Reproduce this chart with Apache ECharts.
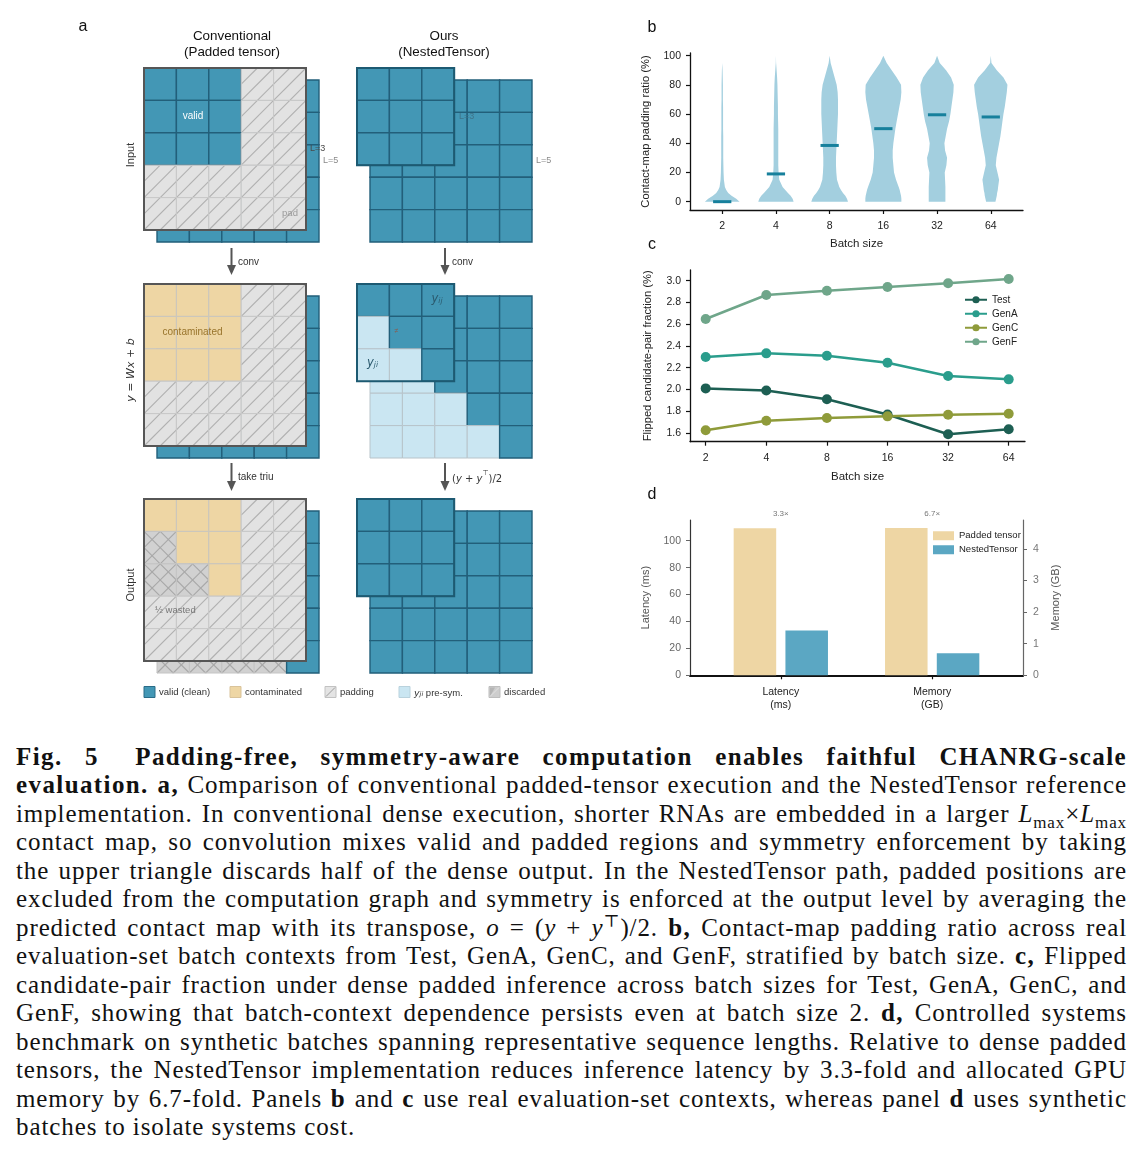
<!DOCTYPE html>
<html><head><meta charset="utf-8">
<script src="https://cdn.jsdelivr.net/npm/echarts@6/dist/echarts.min.js"></script>
<style>
html,body{margin:0;padding:0;background:#fff;}
#chart{position:absolute;left:0;top:0;width:1143px;height:725px;}
.cap{position:absolute;left:16px;width:1111px;font-family:'Liberation Serif','DejaVu Serif',serif;font-size:25px;line-height:28px;height:28px;color:#111;text-align:justify;text-align-last:justify;white-space:nowrap;letter-spacing:0.9px;}
.cap b{letter-spacing:1.4px;}
.cap.last{text-align-last:left;}
.cap sub,.cap sup{font-size:68%;line-height:0;}
</style></head><body>
<div id="chart"></div>
<div id="caption"></div>
<script>
// ================= DATA =================
// panel a: cell kinds  V valid, C contaminated, P padding, L y_ji pre-sym, D discarded
const cellKinds = ['V','C','P','L','D'];
const convFront = [
  ['VVVPP','VVVPP','VVVPP','PPPPP','PPPPP'],
  ['CCCPP','CCCPP','CCCPP','PPPPP','PPPPP'],
  ['CCCPP','DCCPP','DDCPP','PPPPP','PPPPP']
];
const convBack = [
  ['VVVVV','VVVVV','VVVVV','VVVVV','VVVVV'],
  ['VVVVV','VVVVV','VVVVV','VVVVV','VVVVV'],
  ['VVVVV','DVVVV','DDVVV','DDDVV','DDDDV']
];
const oursFront = [
  ['VVV','VVV','VVV'],
  ['VVV','LVV','LLV'],
  ['VVV','VVV','VVV']
];
const oursBack = [
  ['VVVVV','VVVVV','VVVVV','VVVVV','VVVVV'],
  ['VVVVV','LVVVV','LLVVV','LLLVV','LLLLV'],
  ['VVVVV','VVVVV','VVVVV','VVVVV','VVVVV']
];
const rowLabels = ['Input', 'y = Wx + b', 'Output'];
const stepLabelsConv = ['conv', 'take triu'];
const legendA = ['valid (clean)', 'contaminated', 'padding', 'y_ji pre-sym.', 'discarded'];

// panel b: violin profiles (relative half-width at each padding-ratio level)
const batchSizes = ['2','4','8','16','32','64'];
const violinLevels = [0,2,4,6,8,10,15,20,25,30,35,40,45,50,55,60,65,70,75,80,85,90,95,100];
const violin2  = [52,42,28,18,12,8,5,4,3.5,3,3,3,3,2.5,2.5,2.5,2.5,2,2,2,1.5,1,0,0];
const violin4  = [53,50,44,36,28,20,10,8,7,7,7,7,7,7,6.5,6,6,5.5,5,4.5,3.5,2,0.5,0];
const violin8  = [55,52,47,40,34,29,22,20,19,19,20,21,22,23,24,25,25,25,24,21,15,9,3,0];
const violin16 = [54,54,53,51,49,46,38,32,30,28,28,30,33,36,40,44,48,52,54,53,40,25,10,0];
const violin32 = [25,25,25,25,25,25,24,23,28,30,24,22,26,30,36,40,43,46,49,50,42,27,8,0];
const violin64 = [14,16,18,19,21,22,25,20,15,17,21,25,29,32,35,38,42,45,48,50,38,18,2,0];
const paddingMedian = [0, 19, 38.5, 50, 59.5, 58];
const yTicksB = [0,20,40,60,80,100];

// panel c
const flipTest = [2.01, 1.99, 1.91, 1.77, 1.588, 1.634];
const flipGenA = [2.298, 2.332, 2.31, 2.246, 2.124, 2.093];
const flipGenC = [1.625, 1.713, 1.738, 1.753, 1.768, 1.777];
const flipGenF = [2.648, 2.868, 2.908, 2.942, 2.976, 3.015];
const yTicksC = [1.6,1.8,2.0,2.2,2.4,2.6,2.8,3.0];

// panel d
const dMetrics = ['Latency\n(ms)', 'Memory\n(GB)'];
const dPadded = [109.2, 4.66];
const dNested = [33.2, 0.70];
const dFold = ['3.3×', '6.7×'];
const yTicksDL = [0,20,40,60,80,100];
const yTicksDR = [0,1,2,3,4];

// ================= STYLE / LAYOUT =================
const FONT = "'Liberation Sans', Arial, sans-serif";
const TICK_FS = 10.5;
const A_CELL = 32.4, A_DX = 13, A_DY = 12;
const A_ROW_TOP = [68, 284, 499];
const A_CONV_LEFT = 144, A_OURS_LEFT = 357;
const CELL_STYLE = {
  V:{fill:'#4397b5', stroke:'#225f7a', lw:1.4},
  C:{fill:'#eed6a4', stroke:'#cac6be', lw:1},
  P:{fill:'#e2e2e2', stroke:'#c8c8c8', lw:1, hatch:1, hc:'#b0b0b0'},
  L:{fill:'#cae6f2', stroke:'#b8c4ca', lw:1},
  D:{fill:'#d1d1d1', stroke:'#c4c4c4', lw:1, hatch:2, hc:'#a8a8a8'}
};
const COL = {test:'#1d5f53', genA:'#2a9d8c', genC:'#8f9b3a', genF:'#6fa68a',
  violin:'#a3cfdf', median:'#17809c', padded:'#eed6a4', nested:'#5ba7c3'};

function seg(x1,y1,x2,y2,style){return {type:'line',shape:{x1,y1,x2,y2},style};}

function cellRender(params, api){
  const c = api.value(0), r = api.value(1), k = cellKinds[api.value(2)];
  const p0 = api.coord([c, r]), p1 = api.coord([c+1, r+1]);
  const x0 = Math.min(p0[0],p1[0]), x1 = Math.max(p0[0],p1[0]);
  const y0 = Math.min(p0[1],p1[1]), y1 = Math.max(p0[1],p1[1]);
  const st = CELL_STYLE[k];
  const xm = (x0+x1)/2, ym = (y0+y1)/2;
  const ch = [{type:'rect', shape:{x:x0,y:y0,width:x1-x0,height:y1-y0}, style:{fill:st.fill}}];
  if (st.hatch){
    const hs = {stroke:st.hc, lineWidth:1.1};
    ch.push(seg(x0,y1,x1,y0,hs), seg(x0,ym,xm,y0,hs), seg(xm,y1,x1,ym,hs));
    if (st.hatch === 2){
      ch.push(seg(x0,y0,x1,y1,hs), seg(xm,y0,x1,ym,hs), seg(x0,ym,xm,y1,hs));
    }
  }
  ch.push({type:'rect', shape:{x:x0,y:y0,width:x1-x0,height:y1-y0}, style:{fill:null, stroke:st.stroke, lineWidth:st.lw}});
  return {type:'group', children:ch};
}

const grid = [], xAxis = [], yAxis = [], series = [], graphic = [];

function addMatrix(left, top, rows, z){
  const n = rows.length, gi = grid.length;
  grid.push({left, top, width:n*A_CELL, height:n*A_CELL, show:false, containLabel:false, outerBoundsMode:'none'});
  xAxis.push({gridIndex:gi, type:'value', min:0, max:n, show:false});
  yAxis.push({gridIndex:gi, type:'value', min:0, max:n, inverse:true, show:false});
  const data = [];
  rows.forEach((row, r) => row.split('').forEach((t, c) => data.push([c, r, cellKinds.indexOf(t)])));
  series.push({type:'custom', xAxisIndex:gi, yAxisIndex:gi, z, silent:true, renderItem:cellRender, data});
  return {left, top, size:n*A_CELL};
}

function txt(x, y, text, o){
  o = o || {};
  return {type:'text', x, y, rotation:o.rot||0, z:o.z||50, silent:true,
    style:{text, fontSize:o.size||10, fontFamily:o.family||FONT, fontStyle:o.style||'normal', fontWeight:o.weight||'normal',
      fill:o.color||'#222', align:o.align||'center', verticalAlign:'middle', textAlign:o.align||'center', textVerticalAlign:'middle',
      rich:o.rich}};
}

for (let s = 0; s < 3; s++){
  const top = A_ROW_TOP[s];
  addMatrix(A_CONV_LEFT + A_DX, top + A_DY, convBack[s], 2);
  const cf = addMatrix(A_CONV_LEFT, top, convFront[s], 4);
  addMatrix(A_OURS_LEFT + A_DX, top + A_DY, oursBack[s], 2);
  const of = addMatrix(A_OURS_LEFT, top, oursFront[s], 4);
  graphic.push({type:'rect', z:30, silent:true, shape:{x:cf.left, y:cf.top, width:cf.size, height:cf.size}, style:{fill:null, stroke:'#565656', lineWidth:2}});
  graphic.push({type:'rect', z:30, silent:true, shape:{x:of.left, y:of.top, width:of.size, height:of.size}, style:{fill:null, stroke:'#1d5a72', lineWidth:2}});
}

// ---------- panel a texts ----------
const MATH = "'DejaVu Sans', sans-serif";
const subRich = (col, big, small) => ({
  i:{fontFamily:MATH, fontStyle:'italic', fontSize:big, fill:col, verticalAlign:'bottom', lineHeight:big+3},
  s:{fontFamily:MATH, fontStyle:'italic', fontSize:small, fill:col, verticalAlign:'bottom', lineHeight:small+2},
  n:{fontFamily:FONT, fontSize:big, fill:col, verticalAlign:'bottom', lineHeight:big+3}});
graphic.push(
  txt(83, 27, 'a', {size:16, color:'#111'}),
  txt(652, 28, 'b', {size:16, color:'#111'}),
  txt(652, 245, 'c', {size:16, color:'#111'}),
  txt(652, 495, 'd', {size:16, color:'#111'}),
  txt(232, 36, 'Conventional', {size:13.4, color:'#111'}),
  txt(232, 52.5, '(Padded tensor)', {size:13.4, color:'#111'}),
  txt(444, 36, 'Ours', {size:13.4, color:'#111'}),
  txt(444, 52.5, '(NestedTensor)', {size:13.4, color:'#111'}),
  txt(131, 155, rowLabels[0], {size:11, rot:Math.PI/2, color:'#333'}),
  txt(131, 370, '{i|y}{n| = }{i|Wx}{n| + }{i|b}', {size:11, rot:Math.PI/2, color:'#333',
     rich:{i:{fontFamily:MATH, fontStyle:'italic', fontSize:11, fill:'#333'}, n:{fontFamily:MATH, fontSize:11, fill:'#333'}}}),
  txt(131, 585, rowLabels[2], {size:11, rot:Math.PI/2, color:'#333'}),
  txt(193, 116.5, 'valid', {size:10, color:'#ffffff'}),
  txt(310, 148.5, 'L=3', {size:9, color:'#4a4a4a', align:'left'}),
  txt(323, 160.5, 'L=5', {size:9, color:'#8a8a8a', align:'left'}),
  txt(290, 213, 'pad', {size:9.5, color:'#9a9a9a'}),
  txt(459, 116.5, 'L=3', {size:9, color:'#3f7389', align:'left'}),
  txt(536, 160.5, 'L=5', {size:9, color:'#8a8a8a', align:'left'}),
  txt(192.5, 332, 'contaminated', {size:10, color:'#98742c'}),
  txt(437, 298, '{i|y}{s|ij}', {rich:subRich('#2b5a6e', 11.5, 7.5)}),
  txt(396.5, 331, '≠', {size:7, color:'#8e5a4a'}),
  txt(372.5, 362, '{i|y}{s|ji}', {rich:subRich('#2b5a6e', 11.5, 7.5)}),
  txt(155, 610.5, '½ wasted', {size:9.5, color:'#777', align:'left'}),
  txt(238, 262, stepLabelsConv[0], {size:10, color:'#333', align:'left'}),
  txt(238, 477, stepLabelsConv[1], {size:10, color:'#333', align:'left'}),
  txt(452, 262, 'conv', {size:10, color:'#333', align:'left'}),
  txt(452, 477, '{n|(}{i|y}{n| + }{i|y}{s|⊤}{n|)/2}', {align:'left', rich:{
     n:{fontFamily:MATH, fontSize:10, fill:'#333', verticalAlign:'bottom', lineHeight:14},
     i:{fontFamily:MATH, fontStyle:'italic', fontSize:10, fill:'#333', verticalAlign:'bottom', lineHeight:14},
     s:{fontFamily:MATH, fontSize:7, fill:'#333', verticalAlign:'top', lineHeight:14}}})
);
function arrow(x, y0, y1){
  return {type:'group', silent:true, z:30, children:[
    {type:'line', shape:{x1:x, y1:y0, x2:x, y2:y1-9}, style:{stroke:'#555', lineWidth:2}},
    {type:'polygon', shape:{points:[[x-4.5,y1-10],[x+4.5,y1-10],[x,y1]]}, style:{fill:'#555'}}
  ]};
}
graphic.push(arrow(231.5, 248, 275), arrow(231.5, 463, 491), arrow(445, 248, 275), arrow(445, 463, 491));

// legend of panel a
const LGY = 686.5, LGS = 11;
const legX = [144, 230, 325, 399, 489];
const legFill = ['#4397b5', '#eed6a4', '#e4e4e4', '#cae6f2', '#cdcdcd'];
const legStroke = ['#2a6c88', '#d9c39a', '#c2c2c2', '#b9d2dd', '#bdbdbd'];
legX.forEach((x, i) => {
  graphic.push({type:'rect', z:30, silent:true, shape:{x, y:LGY, width:LGS, height:LGS}, style:{fill:legFill[i], stroke:legStroke[i], lineWidth:1}});
  if (i === 2) graphic.push({type:'line', z:31, silent:true, shape:{x1:x+1, y1:LGY+LGS-1, x2:x+LGS-1, y2:LGY+1}, style:{stroke:'#9c9c9c', lineWidth:1}});
  if (i === 4) graphic.push({type:'polygon', z:31, silent:true, shape:{points:[[x+1,LGY+1],[x+6,LGY+1],[x+1,LGY+LGS-1]]}, style:{fill:'#b5b5b5'}},
                           {type:'line', z:31, silent:true, shape:{x1:x+1, y1:LGY+LGS-1, x2:x+LGS-1, y2:LGY+1}, style:{stroke:'#e2e2e2', lineWidth:1}});
  if (i === 3) {
    graphic.push(txt(x+15, LGY+5.5, '{i|y}{s|ji}{n| pre-sym.}', {align:'left', rich:subRich('#333', 9.5, 6.5)}));
  } else {
    graphic.push(txt(x+15, LGY+5.5, legendA[i], {size:9.5, color:'#333', align:'left'}));
  }
});

// ---------- panel b ----------
const violinProfiles = [violin2, violin4, violin8, violin16, violin32, violin64];
const VIOLIN_SCALE = 1/161, MED_HALF = 0.17;
const axisBlack = {show:true, onZero:false, lineStyle:{color:'#111', width:1.3}};
const tickBlack = {show:true, length:4, lineStyle:{color:'#111', width:1.2}};
const gb = grid.length;
grid.push({left:690, top:53, width:333, height:157, outerBoundsMode:'none', containLabel:false});
xAxis.push({gridIndex:gb, type:'value', min:-0.6, max:5.6, axisLine:axisBlack,
  axisTick:Object.assign({customValues:[0,1,2,3,4,5]}, tickBlack),
  axisLabel:{customValues:[0,1,2,3,4,5], formatter:v => batchSizes[Math.round(v)], fontSize:TICK_FS, color:'#222', margin:11, fontFamily:FONT},
  splitLine:{show:false}, name:'Batch size', nameLocation:'middle', nameGap:28,
  nameTextStyle:{fontSize:11.5, color:'#222', fontFamily:FONT}});
yAxis.push({gridIndex:gb, type:'value', min:-5.7, max:101.8, axisLine:axisBlack,
  axisTick:Object.assign({customValues:yTicksB}, tickBlack),
  axisLabel:{customValues:yTicksB, fontSize:TICK_FS, color:'#222', margin:9, fontFamily:FONT},
  splitLine:{show:false}, name:'Contact-map padding ratio (%)', nameLocation:'middle', nameGap:39,
  nameTextStyle:{fontSize:11.2, color:'#222', fontFamily:FONT}});
series.push({type:'custom', xAxisIndex:gb, yAxisIndex:gb, silent:true, z:5,
  data: batchSizes.map((b, i) => [i, paddingMedian[i]]),
  renderItem(params, api){
    const i = api.value(0), med = api.value(1);
    const prof = violinProfiles[params.dataIndex];
    const L = [], R = [];
    violinLevels.forEach((lv, k) => {
      const w = prof[k] * VIOLIN_SCALE;
      R.push(api.coord([i + w, lv]));
      L.push(api.coord([i - w, lv]));
    });
    const pts = R.concat(L.reverse());
    const m0 = api.coord([i - MED_HALF, med]), m1 = api.coord([i + MED_HALF, med]);
    return {type:'group', children:[
      {type:'polygon', shape:{points:pts}, style:{fill:COL.violin}},
      {type:'line', shape:{x1:m0[0], y1:m0[1], x2:m1[0], y2:m1[1]}, style:{stroke:COL.median, lineWidth:3}}
    ]};
  }});

// ---------- panel c ----------
const gc = grid.length;
grid.push({left:690, top:270, width:335, height:171.7, outerBoundsMode:'none', containLabel:false});
xAxis.push({gridIndex:gc, type:'value', min:-0.259, max:5.269, axisLine:axisBlack,
  axisTick:Object.assign({customValues:[0,1,2,3,4,5]}, tickBlack),
  axisLabel:{customValues:[0,1,2,3,4,5], formatter:v => batchSizes[Math.round(v)], fontSize:TICK_FS, color:'#222', margin:11, fontFamily:FONT},
  splitLine:{show:false}, name:'Batch size', nameLocation:'middle', nameGap:29,
  nameTextStyle:{fontSize:11.5, color:'#222', fontFamily:FONT}});
yAxis.push({gridIndex:gc, type:'value', min:1.52, max:3.098, axisLine:axisBlack,
  axisTick:Object.assign({customValues:yTicksC}, tickBlack),
  axisLabel:{customValues:yTicksC, formatter:v => v.toFixed(1), fontSize:TICK_FS, color:'#222', margin:9, fontFamily:FONT},
  splitLine:{show:false}, name:'Flipped candidate-pair fraction (%)', nameLocation:'middle', nameGap:37,
  nameTextStyle:{fontSize:11.2, color:'#222', fontFamily:FONT}});
[['Test', flipTest, COL.test], ['GenA', flipGenA, COL.genA], ['GenC', flipGenC, COL.genC], ['GenF', flipGenF, COL.genF]].forEach(([name, vals, color]) => {
  series.push({type:'line', name, xAxisIndex:gc, yAxisIndex:gc, z:5,
    data: vals.map((v, i) => [i, v]), symbol:'circle', symbolSize:10, showSymbol:true,
    lineStyle:{color, width:2.5}, itemStyle:{color, borderWidth:0}, emphasis:{disabled:true}});
});

// ---------- panel d ----------
const gd = grid.length;
grid.push({left:690, top:520, width:333, height:155.3, outerBoundsMode:'none', containLabel:false});
xAxis.push({gridIndex:gd, type:'value', min:-0.6, max:1.6,
  axisLine:{show:true, onZero:false, lineStyle:{color:'#111', width:2}},
  axisTick:Object.assign({customValues:[0,1]}, tickBlack),
  axisLabel:{customValues:[0,1], formatter:v => dMetrics[Math.round(v)], fontSize:TICK_FS, color:'#222', margin:11, lineHeight:12.5, fontFamily:FONT},
  splitLine:{show:false}});
const ydl = yAxis.length;
yAxis.push({gridIndex:gd, type:'value', min:0, max:115.4, position:'left',
  axisLine:{show:true, onZero:false, lineStyle:{color:'#333', width:1.2}},
  axisTick:{show:true, customValues:yTicksDL, length:4, lineStyle:{color:'#666'}},
  axisLabel:{customValues:yTicksDL, fontSize:TICK_FS, color:'#666', margin:9, fontFamily:FONT},
  splitLine:{show:false}, name:'Latency (ms)', nameLocation:'middle', nameGap:39,
  nameTextStyle:{fontSize:11, color:'#555', fontFamily:FONT}});
const ydr = yAxis.length;
yAxis.push({gridIndex:gd, type:'value', min:0, max:4.915, position:'right',
  axisLine:{show:true, onZero:false, lineStyle:{color:'#666', width:1.2}},
  axisTick:{show:true, customValues:yTicksDR, length:4, lineStyle:{color:'#666'}},
  axisLabel:{customValues:yTicksDR, fontSize:TICK_FS, color:'#777', margin:10, fontFamily:FONT},
  splitLine:{show:false}, name:'Memory (GB)', nameLocation:'middle', nameGap:27,
  nameTextStyle:{fontSize:11, color:'#555', fontFamily:FONT}});
const BAR_W = 0.281, BAR_OFF = 0.171;
function barRender(off){
  return function(params, api){
    const x = api.value(0), v = api.value(1);
    const p0 = api.coord([x + off - BAR_W/2, v]), p1 = api.coord([x + off + BAR_W/2, 0]);
    return {type:'rect', shape:{x:p0[0], y:p0[1], width:p1[0]-p0[0], height:p1[1]-p0[1]}, style:{fill:api.visual('color')}};
  };
}
[[dPadded, 'Padded tensor', COL.padded, -BAR_OFF], [dNested, 'NestedTensor', COL.nested, BAR_OFF]].forEach(([vals, name, color, off]) => {
  vals.forEach((v, i) => {
    series.push({type:'custom', name, xAxisIndex:gd, yAxisIndex: i === 0 ? ydl : ydr, z:4, silent:true,
      itemStyle:{color}, data:[[i, v]], renderItem:barRender(off)});
  });
});
series.push({type:'custom', xAxisIndex:gd, yAxisIndex:ydl, z:6, silent:true,
  data: dFold.map((f, i) => [i, 115.4]),
  renderItem(params, api){
    const p = api.coord([api.value(0), api.value(1)]);
    return {type:'text', x:p[0], y:p[1]-6, style:{text:dFold[params.dataIndex], fontSize:8, fontFamily:FONT, fill:'#777', align:'center', verticalAlign:'middle'}};
  }});

const option = {
  animation:false,
  textStyle:{fontFamily:FONT},
  grid, xAxis, yAxis, series, graphic,
  legend:[
    {data:['Test','GenA','GenC','GenF'], left:959, top:289, orient:'vertical', itemWidth:22, itemHeight:9, itemGap:2.5,
     textStyle:{fontSize:10, color:'#222', fontFamily:FONT, lineHeight:11.5}, selectedMode:false},
    {data:['Padded tensor','NestedTensor'], left:928, top:525, orient:'vertical', itemWidth:21, itemHeight:9, itemGap:2.5, icon:'rect',
     textStyle:{fontSize:9.5, color:'#222', fontFamily:FONT, lineHeight:11.5}, selectedMode:false}
  ]
};
const chart = echarts.init(document.getElementById('chart'), null, {renderer:'canvas'});
chart.setOption(option);

// ================= CAPTION =================
const captionLines = [
  '<b>Fig. 5&ensp; Padding-free, symmetry-aware computation enables faithful CHANRG-scale</b>',
  '<b>evaluation. a,</b> Comparison of conventional padded-tensor execution and the NestedTensor reference',
  'implementation. In conventional dense execution, shorter RNAs are embedded in a larger <i>L</i><sub>max</sub>×<i>L</i><sub>max</sub>',
  'contact map, so convolution mixes valid and padded regions and symmetry enforcement by taking',
  'the upper triangle discards half of the dense output. In the NestedTensor path, padded positions are',
  'excluded from the computation graph and symmetry is enforced at the output level by averaging the',
  'predicted contact map with its transpose, <i>o</i> = (<i>y</i> + <i>y</i><sup>⊤</sup>)/2. <b>b,</b> Contact-map padding ratio across real',
  'evaluation-set batch contexts from Test, GenA, GenC, and GenF, stratified by batch size. <b>c,</b> Flipped',
  'candidate-pair fraction under dense padded inference across batch sizes for Test, GenA, GenC, and',
  'GenF, showing that batch-context dependence persists even at batch size 2. <b>d,</b> Controlled systems',
  'benchmark on synthetic batches spanning representative sequence lengths. Relative to dense padded',
  'tensors, the NestedTensor implementation reduces inference latency by 3.3-fold and allocated GPU',
  'memory by 6.7-fold. Panels <b>b</b> and <b>c</b> use real evaluation-set contexts, whereas panel <b>d</b> uses synthetic',
  'batches to isolate systems cost.'
];
const capEl = document.getElementById('caption');
captionLines.forEach((html, k) => {
  const d = document.createElement('div');
  d.className = 'cap' + (k === captionLines.length - 1 ? ' last' : '');
  d.style.top = (757 + 28.46 * k - 14) + 'px';
  d.innerHTML = html;
  capEl.appendChild(d);
});
</script>
</body></html>
